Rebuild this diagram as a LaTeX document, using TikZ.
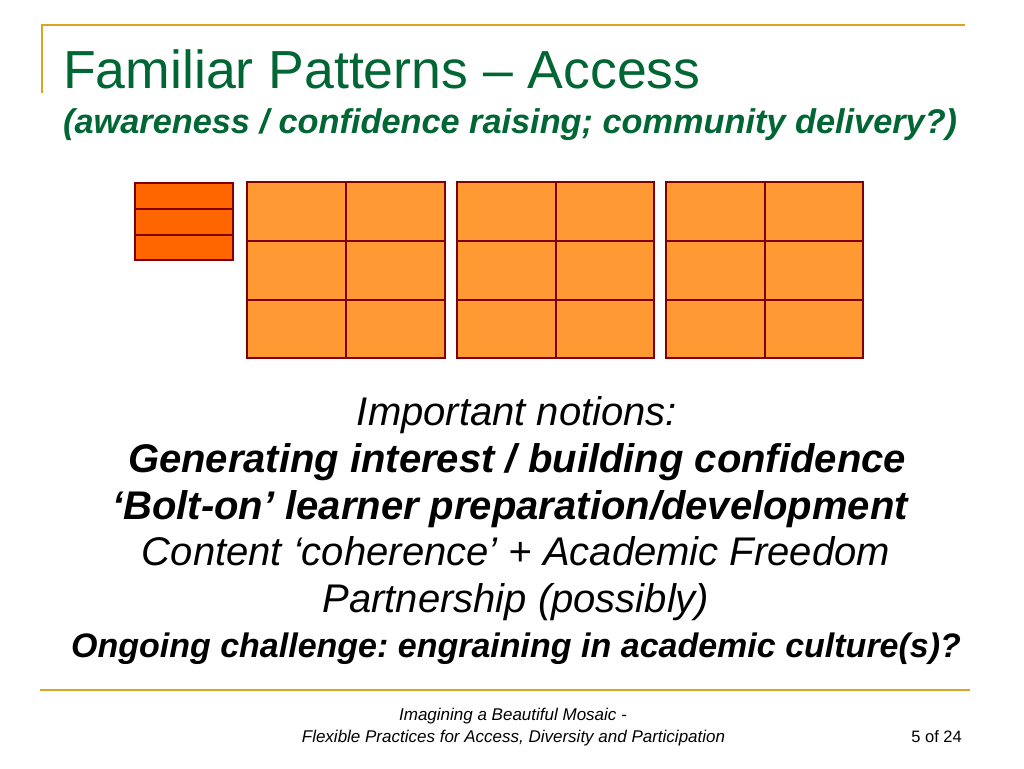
\documentclass[tikz,border=0pt]{standalone}
\usepackage{fontspec}
\setmainfont{Liberation Sans}
\frenchspacing
\definecolor{titlegreen}{RGB}{0,102,51}
\definecolor{gold}{RGB}{218,165,32}
\definecolor{darkorange}{RGB}{255,102,0}
\definecolor{lightorange}{RGB}{255,153,51}
\definecolor{cellborder}{RGB}{128,0,0}
\begin{document}
\begin{tikzpicture}[x=1pt,y=-1pt,
  rule/.style={draw=gold,line width=2pt},
  cellA/.style={draw=cellborder,fill=darkorange,line width=2.2pt},
  cellB/.style={draw=cellborder,fill=lightorange,line width=2.2pt},
  body/.style={inner sep=0pt,anchor=base,font=\fontsize{40}{40}\selectfont\itshape},
  bodyb/.style={body,font=\fontsize{40}{40}\selectfont\bfseries\itshape},
  foot/.style={inner sep=0pt,anchor=base,font=\fontsize{17}{17}\selectfont\itshape}]
\useasboundingbox (0,0) rectangle (1024,768);
\fill[white] (0,0) rectangle (1024,768);
% rules
\draw[rule] (42,93) -- (42,25) -- (965,25);
\draw[rule] (40,690) -- (970,690);
% title
\node[inner sep=0pt,anchor=base west,text=titlegreen,font=\fontsize{53.6}{54}\selectfont] (title) at (63,88) {Familiar Patterns – Access};
\node[inner sep=0pt,anchor=base west,text=titlegreen,font=\fontsize{34.3}{34}\selectfont\bfseries\itshape] (sub) at (63,133) {(awareness / confidence raising; community delivery?)};
% small stack
\foreach \y/\h in {183/209,209/235,235/260}
  \draw[cellA] (135,\y) rectangle (233,\h);
% grids
\foreach \x/\m/\e in {247/346/445,457/556/654,666/765/863}{
  \foreach \ya/\yb in {182/241,241/300,300/358}{
    \draw[cellB] (\x,\ya) rectangle (\m,\yb);
    \draw[cellB] (\m,\ya) rectangle (\e,\yb);
  }
}
% body text
\node[body] (l1) at (517,425) {Important notions:};
\node[bodyb] (l2) at (517,472) {Generating interest / building confidence};
\node[bodyb] (l3) at (510,519) {‘Bolt-on’ learner preparation/development};
\node[body] (l4) at (516,565) {Content ‘coherence’ + Academic Freedom};
\node[body] (l5) at (516,612) {Partnership (possibly)};
\node[bodyb,font=\fontsize{34}{34}\selectfont\bfseries\itshape] (l6) at (516,657) {Ongoing challenge: engraining in academic culture(s)?};
% footer
\node[foot] (f1) at (513,720) {Imagining a Beautiful Mosaic -};
\node[foot] (f2) at (513.5,742) {Flexible Practices for Access, Diversity and Participation};
\node[inner sep=0pt,anchor=base east,font=\fontsize{16.5}{16.5}\selectfont] (pg) at (962,742) {5 of 24};
\end{tikzpicture}
\end{document}
